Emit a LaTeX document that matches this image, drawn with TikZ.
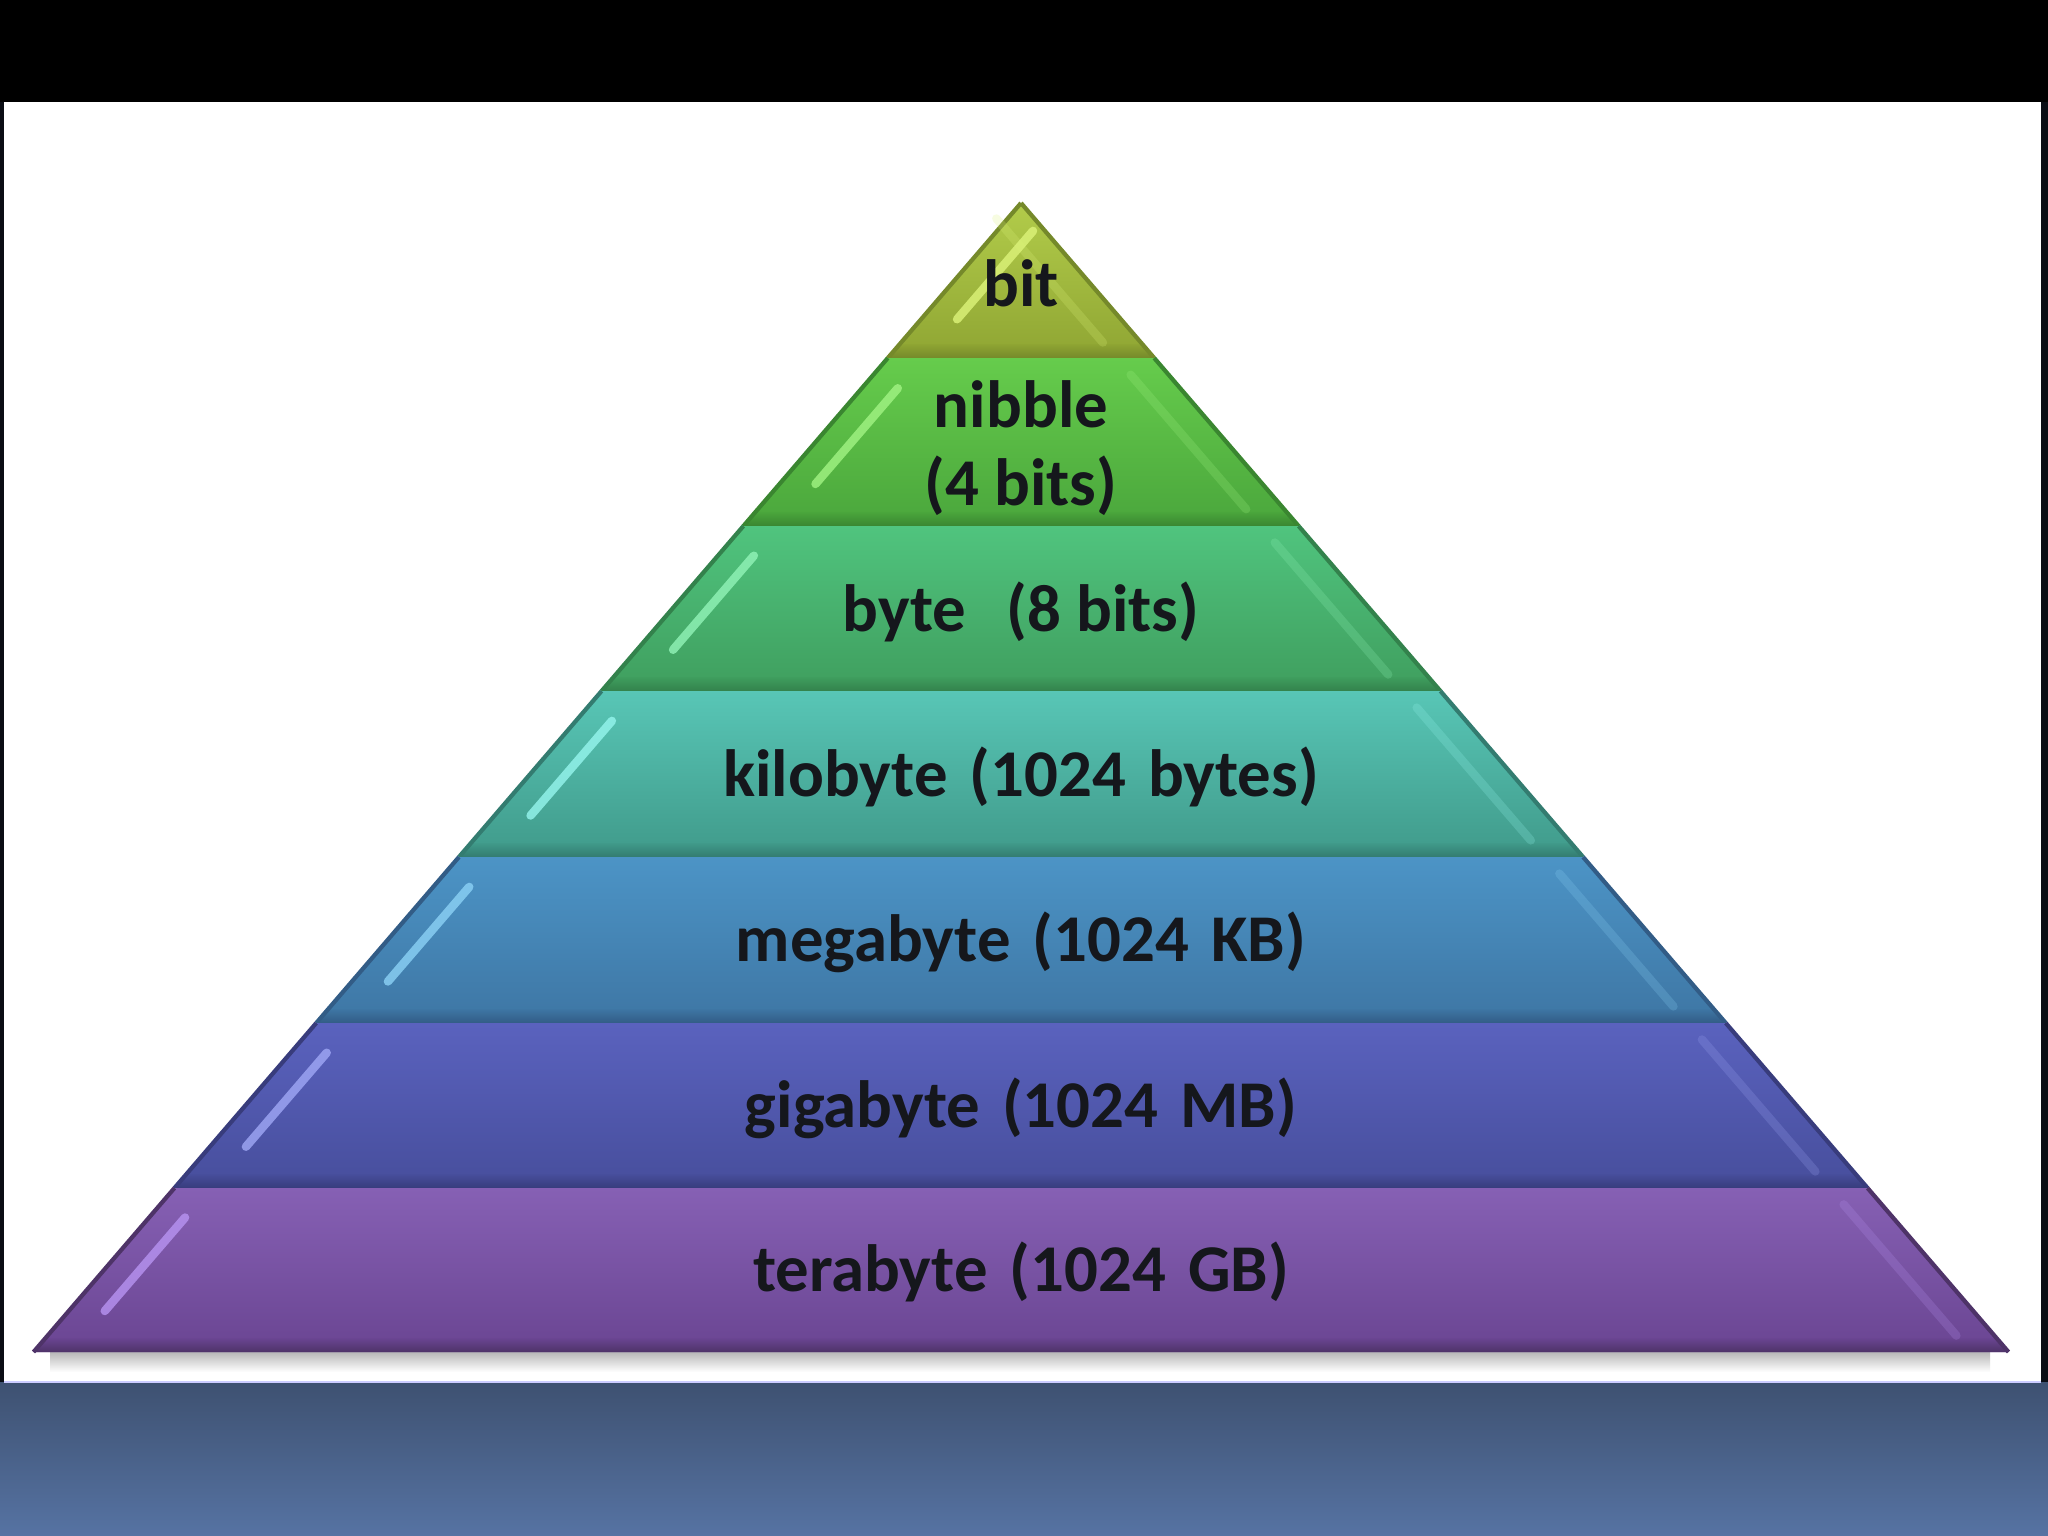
\documentclass[tikz,border=0pt]{standalone}
\usepackage{fontspec}
\setmainfont{Carlito}
\definecolor{bandtop}{HTML}{3E5171}
\definecolor{bandbot}{HTML}{5673A3}
\definecolor{framedark}{HTML}{0A0D14}
\definecolor{txt}{HTML}{15171C}
\definecolor{bitT}{HTML}{B2CC4A}\definecolor{bitB}{HTML}{8FA533}\definecolor{bitD}{HTML}{75892A}\definecolor{bitL}{HTML}{DDF47A}
\definecolor{nibT}{HTML}{66CC4C}\definecolor{nibB}{HTML}{4AA63C}\definecolor{nibD}{HTML}{3A8630}\definecolor{nibL}{HTML}{A2F484}
\definecolor{bytT}{HTML}{50C47E}\definecolor{bytB}{HTML}{3F9E5E}\definecolor{bytD}{HTML}{33824C}\definecolor{bytL}{HTML}{92F4B8}
\definecolor{kbT}{HTML}{58C6B6}\definecolor{kbB}{HTML}{409A8A}\definecolor{kbD}{HTML}{337C70}\definecolor{kbL}{HTML}{96F6EE}
\definecolor{mbT}{HTML}{4C94C6}\definecolor{mbB}{HTML}{3E76A4}\definecolor{mbD}{HTML}{325C86}\definecolor{mbL}{HTML}{8CD2F6}
\definecolor{gbT}{HTML}{5A62BE}\definecolor{gbB}{HTML}{474E9C}\definecolor{gbD}{HTML}{383C7C}\definecolor{gbL}{HTML}{A0A8F6}
\definecolor{tbT}{HTML}{8660B4}\definecolor{tbB}{HTML}{6A4592}\definecolor{tbD}{HTML}{4E3368}\definecolor{tbL}{HTML}{B894F2}
% #1 top y, #2 bottom y, #3 top colour, #4 bottom colour, #5 dark, #6 light
\newcommand\pyrlayer[6]{%
  \pgfmathsetmacro\pyrT{0.85944*(#1-203)}%
  \pgfmathsetmacro\pyrB{0.85944*(#2-203)}%
  \pgfmathsetmacro\pyrH{#2-#1}%
  \pgfmathsetmacro\sya{#1+0.18*\pyrH}%
  \pgfmathsetmacro\syb{#1+0.75*\pyrH}%
  \pgfmathsetmacro\sxa{1021-0.85944*(\sya-203)+36}%
  \pgfmathsetmacro\sxb{1021-0.85944*(\syb-203)+36}%
  \pgfmathsetmacro\rya{#1+0.10*\pyrH}%
  \pgfmathsetmacro\ryb{#1+0.90*\pyrH}%
  \pgfmathsetmacro\rxa{1021+0.85944*(\rya-203)-38}%
  \pgfmathsetmacro\rxb{1021+0.85944*(\ryb-203)-38}%
  \pgfmathsetmacro\pyrM{0.85944*(#2-14-203)}%
  \shade[top color=#3, bottom color=#4]
    ({1021-\pyrT},#1) -- ({1021+\pyrT},#1) -- ({1021+\pyrB},#2) -- ({1021-\pyrB},#2) -- cycle;
  \shade[top color=#4, bottom color=#5]
    ({1021-\pyrM},#2-14) -- ({1021+\pyrM},#2-14) -- ({1021+\pyrB},#2) -- ({1021-\pyrB},#2) -- cycle;
  \draw[#5, line width=1.2pt, line join=round]
    ({1021-\pyrB},#2) -- ({1021-\pyrT},#1) ({1021+\pyrT},#1) -- ({1021+\pyrB},#2);
  \draw[#6, line width=2.4pt, line cap=round, opacity=0.8] (\sxa,\sya) -- (\sxb,\syb);
  \draw[#6, line width=2.4pt, line cap=round, opacity=0.22] (\rxa,\rya) -- (\rxb,\ryb);
}
\begin{document}
\begin{tikzpicture}[x=0.01cm, y=-0.01cm,
  lbl/.style={font=\fontsize{19}{22.4}\selectfont\bfseries, text=txt, align=center, inner sep=0pt}]
\useasboundingbox (0,0) rectangle (2048,1536);
% frame
\fill[black] (0,0) rectangle (2048,1536);
\fill[framedark] (0,102) rectangle (4,1382);
\fill[framedark] (2041,102) rectangle (2048,1382);
\shade[top color=bandtop, bottom color=bandbot] (0,1382) rectangle (2048,1536);
\fill[white] (4,102) rectangle (2041,1382);
\draw[blue!20!white, line width=0.6pt] (4,1382) -- (2041,1382);
% shadow under the base
\shade[top color=black!28, bottom color=white] (50,1352) rectangle (1990,1372);
\shade[left color=white, right color=white, middle color=white, opacity=0] (50,1352) rectangle (1990,1372);
% layers
\pyrlayer{203}{358}{bitT}{bitB}{bitD}{bitL}
\pyrlayer{358}{526}{nibT}{nibB}{nibD}{nibL}
\pyrlayer{526}{691}{bytT}{bytB}{bytD}{bytL}
\pyrlayer{691}{857}{kbT}{kbB}{kbD}{kbL}
\pyrlayer{857}{1023}{mbT}{mbB}{mbD}{mbL}
\pyrlayer{1023}{1188}{gbT}{gbB}{gbD}{gbL}
\pyrlayer{1188}{1352}{tbT}{tbB}{tbD}{tbL}
% labels
\node[lbl] (tbit) at (1021,283) {bit};
\node[lbl] (tnib) at (1021,448) {nibble\\(4 bits)};
\node[lbl] (tbyte) at (1021,612) {byte\hspace{0.6em}(8 bits)};
\node[lbl] (tkb) at (1021,777) {kilobyte\hspace{0.33em}(1024\hspace{0.33em}bytes)};
\node[lbl] (tmb) at (1021,942) {megabyte\hspace{0.33em}(1024\hspace{0.33em}KB)};
\node[lbl] (tgb) at (1021,1108) {gigabyte\hspace{0.33em}(1024\hspace{0.33em}MB)};
\node[lbl] (ttb) at (1021,1272) {terabyte\hspace{0.33em}(1024\hspace{0.33em}GB)};
\end{tikzpicture}
\end{document}
